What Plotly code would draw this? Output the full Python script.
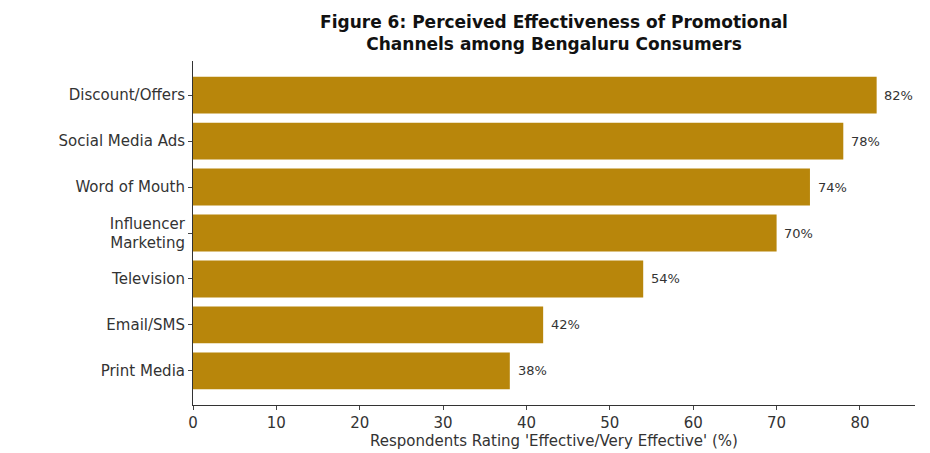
import plotly.graph_objects as go

channels = ["Print Media", "Email/SMS", "Television", "Influencer<br>Marketing",
            "Word of Mouth", "Social Media Ads", "Discount/Offers"]
values = [38, 42, 54, 70, 74, 78, 82]
x_ticks = [0, 10, 20, 30, 40, 50, 60, 70, 80]

BAR = "#B8860B"
FONT = "DejaVu Sans"

fig = go.Figure()
fig.add_trace(go.Bar(
    x=values, y=list(range(len(channels))), orientation="h",
    marker=dict(color=BAR, line=dict(width=0)), width=0.8,
    hoverinfo="skip",
))
for i, v in enumerate(values):
    fig.add_annotation(x=v + 0.7, y=i, text=f"{v}%", showarrow=False,
                       xanchor="left", yanchor="middle",
                       font=dict(family=FONT, size=13, color="#333333"))

fig.update_layout(
    width=930, height=453,
    margin=dict(l=193, r=15, t=61, b=48),
    paper_bgcolor="white", plot_bgcolor="white",
    showlegend=False,
    font=dict(family=FONT, color="#222222"),
    title=dict(text="<b>Figure 6: Perceived Effectiveness of Promotional<br>Channels among Bengaluru Consumers</b>",
               x=(193 + 915) / 2 / 930, xanchor="center",
               yref="container", y=1 - 28 / 453, yanchor="middle",
               font=dict(family=FONT, size=17, color="#111111")),
    xaxis=dict(range=[0, 86.6], tickvals=x_ticks, ticks="outside", ticklen=4,
               ticklabelstandoff=0, automargin=False,
               showline=True, linecolor="#333333", linewidth=1, showgrid=False,
               zeroline=False, tickfont=dict(size=15, color="#333333"),
               title=dict(text="Respondents Rating 'Effective/Very Effective' (%)",
                          font=dict(size=15, color="#333333"), standoff=4)),
    yaxis=dict(range=[-0.74, 6.74], tickvals=list(range(len(channels))), ticktext=channels,
               ticks="outside", ticklen=4, showline=True, linecolor="#333333", linewidth=1,
               automargin=False,
               showgrid=False, zeroline=False, tickfont=dict(size=15, color="#333333")),
)
fig.write_html("out.html")
